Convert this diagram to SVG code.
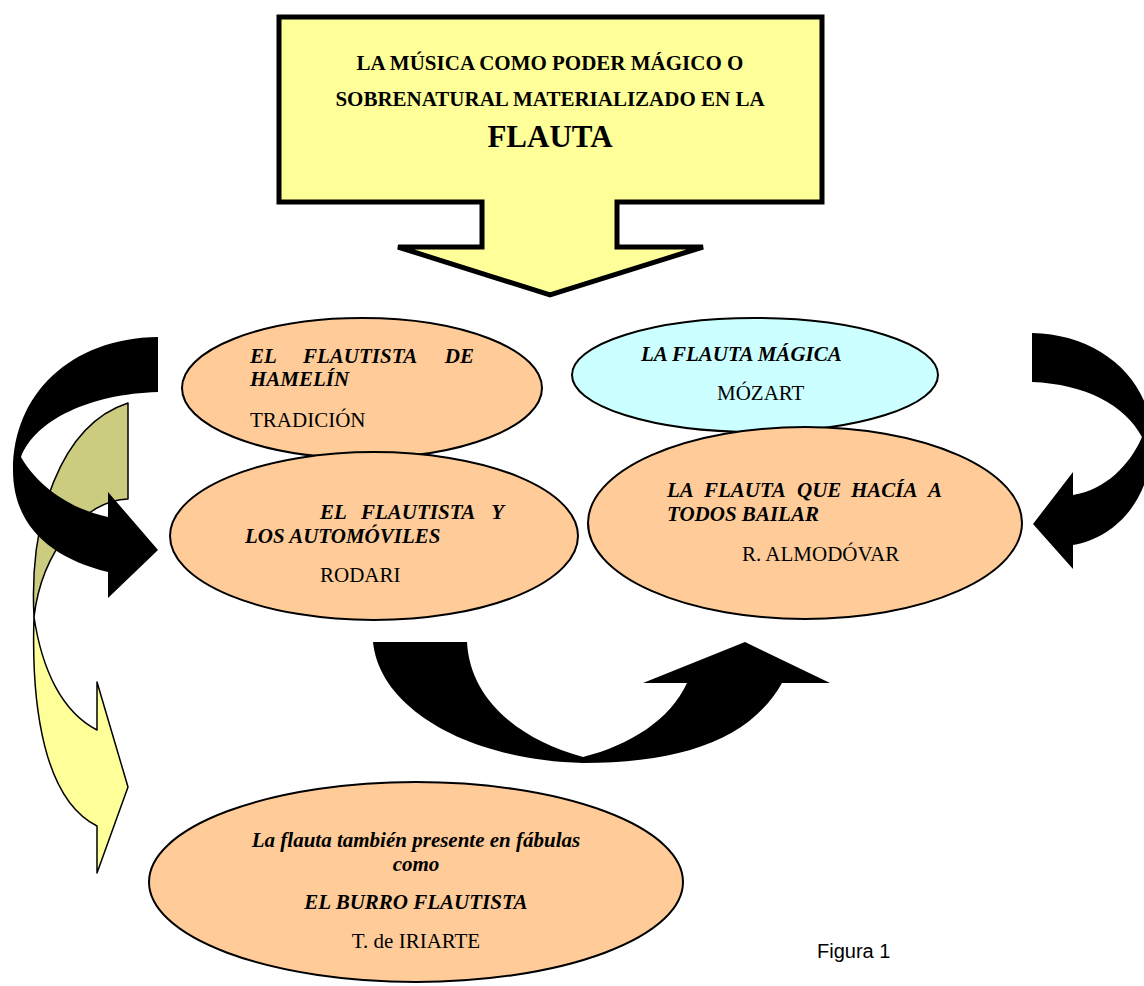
<svg xmlns="http://www.w3.org/2000/svg" width="1144" height="986" viewBox="0 0 1144 986">
<style>
.t{font-family:"Liberation Serif","Times New Roman",serif;font-size:21px;fill:#000}
.b{font-weight:bold}
.bi{font-weight:bold;font-style:italic}
.el{stroke:#000;stroke-width:2}
.peach{fill:#FFCC99}
.cyan{fill:#CCFFFF}
.blk{fill:#000}
</style>
<rect width="1144" height="986" fill="#fff"/>
<g id="connectors">
<path id="olive-back" d="M128,403 L128,499 C 85,500 42,550 34,617 C 29,520 60,425 128,403 Z" fill="#CCCC80" stroke="#000" stroke-width="1.5" stroke-linejoin="round"/>
<path id="yellow-front" d="M34,617 C 31,710 45,800 97,826 L97,873 L128,787 L97,682 L97,730 C 62,712 42,670 34,617 Z" fill="#FFFF99" stroke="#000" stroke-width="1.5" stroke-linejoin="round"/>
<path id="left-arrow" class="blk" d="M158,337 L158,392 C 90,394 35,420 21,457 C 40,490 75,510 108,517 L108,492 L158,550 L108,598 L108,572 C 50,558 13,525 13,470 C 13,395 70,338 158,337 Z"/>
<path id="right-arrow" class="blk" d="M1032,333 C 1100,334 1152,380 1152,440 C 1152,500 1115,538 1073,545 L1073,569 L1033,524 L1073,472 L1073,495 C 1105,490 1130,465 1142,437 C 1125,405 1085,384 1032,382 Z"/>
<path id="bottom-arrow" class="blk" d="M373,642 L467,642 C 470,700 520,740 583,757 C 630,745 670,720 687,683 L643,683 L745,642 L830,683 L782,683 C 750,740 680,763 583,763 C 470,760 380,710 373,642 Z"/>
</g>
<g id="title">
<path d="M279,17 L822,17 L822,202 L617,202 L617,247 L703,247 L550,295 L398,247 L482,247 L482,202 L279,202 Z" fill="#FFFF99" stroke="#000" stroke-width="5" stroke-linejoin="miter"/>
<text class="t b" x="550" y="70" text-anchor="middle">LA MÚSICA COMO PODER MÁGICO O</text>
<text class="t b" x="550" y="106" text-anchor="middle">SOBRENATURAL MATERIALIZADO EN LA</text>
<text class="t b" x="550" y="147" text-anchor="middle" style="font-size:31px">FLAUTA</text>
</g>
<g id="hamelin">
<ellipse class="el peach" cx="362" cy="388" rx="180" ry="70"/>
<text class="t bi" x="250" y="363">EL</text>
<text class="t bi" x="303" y="363">FLAUTISTA</text>
<text class="t bi" x="474" y="363" text-anchor="end">DE</text>
<text class="t bi" x="250" y="386">HAMELÍN</text>
<text class="t" x="250" y="427">TRADICIÓN</text>
</g>
<g id="automoviles">
<ellipse class="el peach" cx="374" cy="536" rx="204" ry="84"/>
<text class="t bi" x="320" y="519">EL</text>
<text class="t bi" x="361" y="519">FLAUTISTA</text>
<text class="t bi" x="504" y="519" text-anchor="end">Y</text>
<text class="t bi" x="245" y="543">LOS AUTOMÓVILES</text>
<text class="t" x="320" y="582">RODARI</text>
</g>
<g id="magica">
<ellipse class="el cyan" cx="755" cy="375" rx="183" ry="57"/>
<text class="t bi" x="641" y="361">LA FLAUTA MÁGICA</text>
<text class="t" x="717" y="400">MÓZART</text>
</g>
<g id="almodovar">
<ellipse class="el peach" cx="805" cy="523" rx="217" ry="96"/>
<text class="t bi" x="667" y="497">LA</text>
<text class="t bi" x="704" y="497">FLAUTA</text>
<text class="t bi" x="797" y="497">QUE</text>
<text class="t bi" x="851" y="497">HACÍA</text>
<text class="t bi" x="942" y="497" text-anchor="end">A</text>
<text class="t bi" x="667" y="521">TODOS BAILAR</text>
<text class="t" x="742" y="561">R. ALMODÓVAR</text>
</g>
<g id="burro">
<ellipse class="el peach" cx="416" cy="882" rx="267" ry="100"/>
<text class="t bi" x="416" y="847" text-anchor="middle">La flauta también presente en fábulas</text>
<text class="t bi" x="416" y="871" text-anchor="middle">como</text>
<text class="t bi" x="416" y="909" text-anchor="middle">EL BURRO FLAUTISTA</text>
<text class="t" x="416" y="948" text-anchor="middle">T. de IRIARTE</text>
</g>
<text id="caption" x="817" y="958" style="font-family:'Liberation Sans',Arial,sans-serif;font-size:20px">Figura 1</text>
</svg>
